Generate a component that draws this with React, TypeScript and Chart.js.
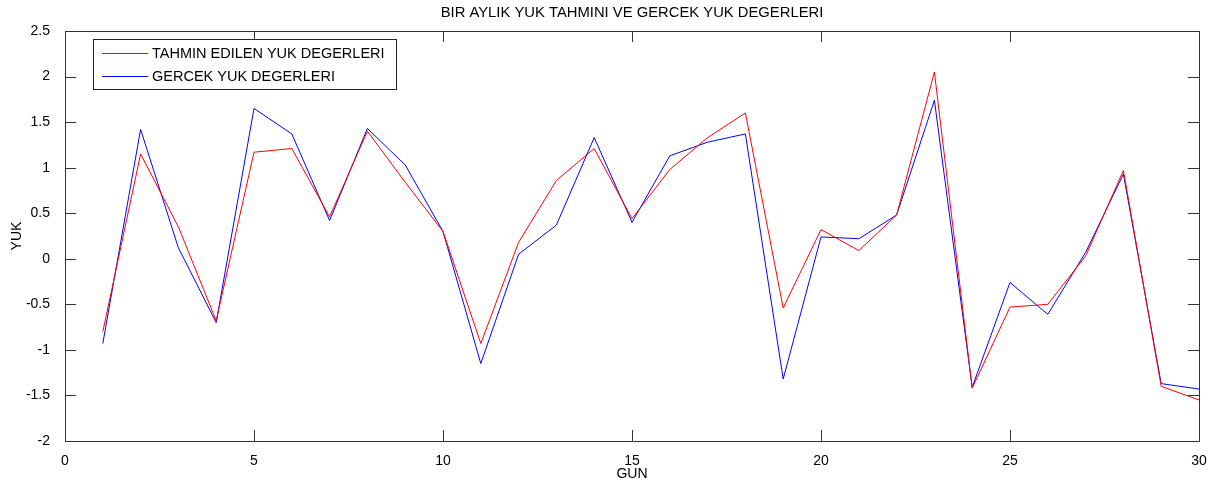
import React, { useEffect, useRef } from "react";
import { Chart, registerables } from "chart.js";

Chart.register(...registerables);

const TITLE = "BIR AYLIK YUK TAHMINI VE GERCEK YUK DEGERLERI";
const X_LABEL = "GUN";
const Y_LABEL = "YUK";

const days = [1, 2, 3, 4, 5, 6, 7, 8, 9, 10, 11, 12, 13, 14, 15, 16, 17, 18, 19, 20, 21, 22, 23, 24, 25, 26, 27, 28, 29, 30];

const predicted = [
  -0.8, 1.15, 0.35, -0.68, 1.17, 1.21, 0.46, 1.4, 0.84, 0.3,
  -0.93, 0.18, 0.86, 1.21, 0.44, 0.98, 1.33, 1.6, -0.54, 0.32,
  0.09, 0.48, 2.05, -1.42, -0.53, -0.5, 0.03, 0.97, -1.4, -1.55,
];

const actual = [
  -0.93, 1.42, 0.12, -0.7, 1.65, 1.37, 0.42, 1.43, 1.03, 0.3,
  -1.15, 0.05, 0.37, 1.33, 0.4, 1.13, 1.28, 1.37, -1.32, 0.24,
  0.22, 0.48, 1.74, -1.41, -0.26, -0.61, 0.07, 0.93, -1.37, -1.43,
];

const seriesLabels = ["TAHMIN EDILEN YUK DEGERLERI", "GERCEK YUK DEGERLERI"];
const seriesColors = ["#ff0000", "#0000ff"];

const xTicks = [0, 5, 10, 15, 20, 25, 30];
const yTicks = [-2, -1.5, -1, -0.5, 0, 0.5, 1, 1.5, 2, 2.5];

const FONT = '"Liberation Sans", Arial, Helvetica, sans-serif';

const framePlugin = {
  id: "matlabFrame",
  afterDatasetsDraw(chart: any) {
    const { ctx, chartArea } = chart;
    const { left, right, top, bottom } = chartArea;
    const xs = chart.scales.x;
    const ys = chart.scales.y;
    const tl = 11;
    ctx.save();
    ctx.strokeStyle = "#333333";
    ctx.lineWidth = 1;
    ctx.beginPath();
    ctx.rect(Math.round(left) + 0.5, Math.round(top) + 0.5, Math.round(right - left), Math.round(bottom - top));
    ctx.stroke();
    ctx.beginPath();
    xTicks.forEach((v) => {
      const px = Math.round(xs.getPixelForValue(v)) + 0.5;
      ctx.moveTo(px, bottom);
      ctx.lineTo(px, bottom - tl);
      ctx.moveTo(px, top);
      ctx.lineTo(px, top + tl);
    });
    yTicks.forEach((v) => {
      const py = Math.round(ys.getPixelForValue(v)) + 0.5;
      ctx.moveTo(left, py);
      ctx.lineTo(left + tl, py);
      ctx.moveTo(right, py);
      ctx.lineTo(right - tl, py);
    });
    ctx.stroke();

    // title
    ctx.fillStyle = "#000";
    ctx.font = `14.8px ${FONT}`;
    ctx.textAlign = "center";
    ctx.textBaseline = "middle";
    ctx.fillText(TITLE, (left + right) / 2, 13);

    // legend
    const bx = 93.5, by = 39.5, bw = 303, bh = 50;
    ctx.fillStyle = "#fff";
    ctx.fillRect(bx, by, bw, bh);
    ctx.strokeStyle = "#222";
    ctx.strokeRect(bx, by, bw, bh);
    ctx.font = `14.5px ${FONT}`;
    ctx.textAlign = "left";
    chart.data.datasets.forEach((ds: any, i: number) => {
      const cy = Math.round(by + 13 + i * 23.5) + 0.5;
      ctx.strokeStyle = ds.borderColor;
      ctx.beginPath();
      ctx.moveTo(102, cy);
      ctx.lineTo(148, cy);
      ctx.stroke();
      ctx.fillStyle = "#000";
      ctx.fillText(ds.label, 152, cy);
    });
    ctx.restore();
  },
};

export default function App() {
  const ref = useRef<HTMLCanvasElement | null>(null);

  useEffect(() => {
    const canvas = ref.current;
    if (!canvas) return;
    Chart.defaults.font.family = FONT;
    const chart = new Chart(canvas, {
      type: "line",
      data: {
        datasets: [
          {
            label: seriesLabels[0],
            data: days.map((d, i) => ({ x: d, y: predicted[i] })),
            borderColor: seriesColors[0],
            backgroundColor: seriesColors[0],
            borderWidth: 1,
            pointRadius: 0,
            tension: 0,
            fill: false,
          },
          {
            label: seriesLabels[1],
            data: days.map((d, i) => ({ x: d, y: actual[i] })),
            borderColor: seriesColors[1],
            backgroundColor: seriesColors[1],
            borderWidth: 1,
            pointRadius: 0,
            tension: 0,
            fill: false,
          },
        ],
      },
      options: {
        responsive: false,
        animation: false,
        layout: { padding: { left: 0, right: 20, top: 31, bottom: 0 } },
        plugins: {
          legend: { display: false },
          title: { display: false },
          tooltip: { enabled: false },
        },
        scales: {
          x: {
            type: "linear",
            min: 0,
            max: 30,
            afterBuildTicks: (scale: any) => {
              scale.ticks = xTicks.map((v) => ({ value: v }));
            },
            ticks: {
              color: "#000",
              font: { size: 14 },
              padding: 4,
              maxRotation: 0,
              autoSkip: false,
              callback: (v: any) => String(v),
            },
            grid: { display: false },
            border: { display: false },
            title: {
              display: true,
              text: X_LABEL,
              color: "#000",
              font: { size: 14 },
              padding: { top: 0, bottom: 5 },
            },
            afterFit: (scale: any) => {
              scale.height = 47;
            },
          },
          y: {
            type: "linear",
            min: -2,
            max: 2.5,
            afterBuildTicks: (scale: any) => {
              scale.ticks = yTicks.map((v) => ({ value: v }));
            },
            ticks: {
              color: "#000",
              font: { size: 14 },
              padding: 7,
              autoSkip: false,
              callback: (v: any) => String(v),
            },
            grid: { display: false },
            border: { display: false },
            title: {
              display: true,
              text: Y_LABEL,
              color: "#000",
              font: { size: 14 },
              padding: { top: 9, bottom: 0 },
            },
            afterFit: (scale: any) => {
              scale.width = 65;
            },
          },
        },
      },
      plugins: [framePlugin],
    } as any);
    return () => chart.destroy();
  }, []);

  return (
    <div style={{ position: "fixed", left: 0, top: 0, width: 1219, height: 488, background: "#fff" }}>
      <canvas ref={ref} width={1219} height={488} style={{ display: "block" }} />
    </div>
  );
}
